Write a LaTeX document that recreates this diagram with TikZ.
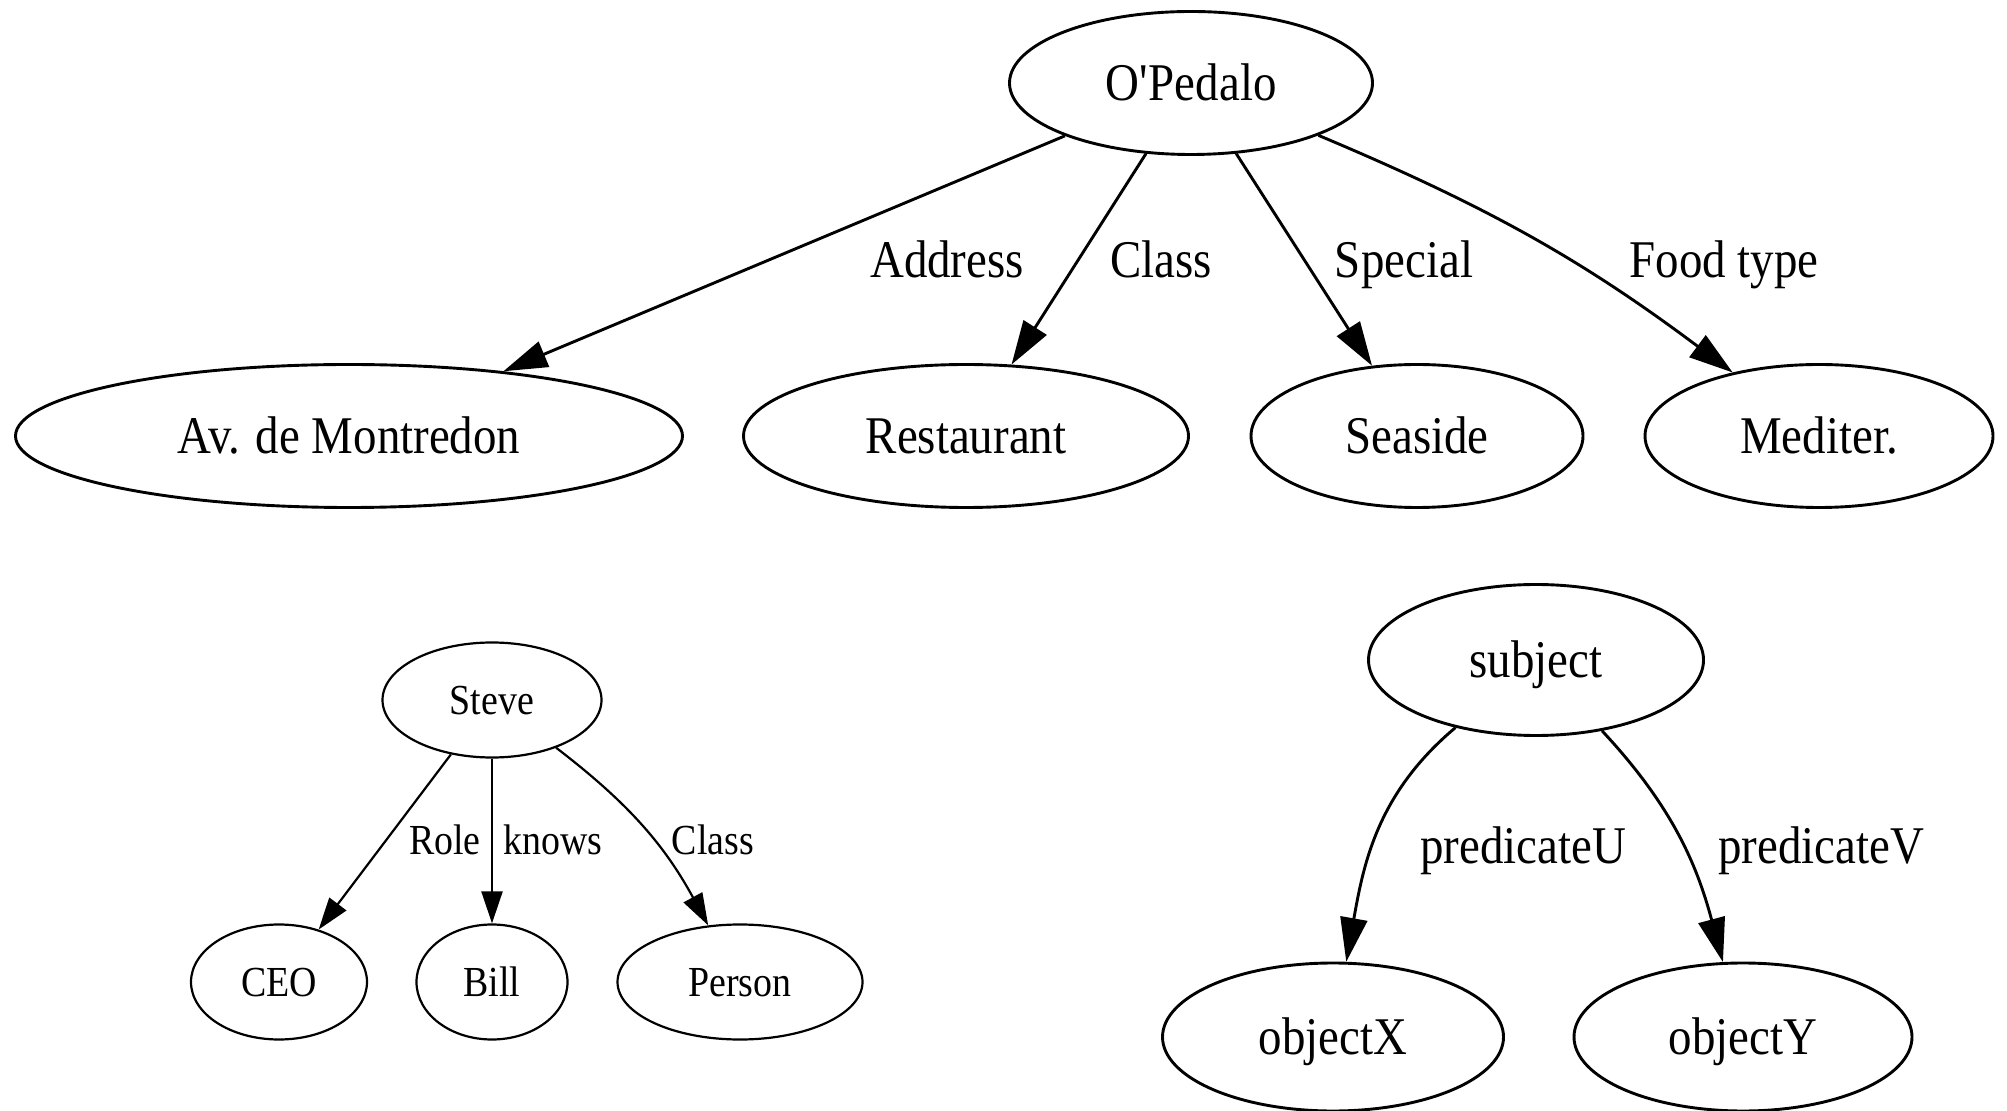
\documentclass[tikz,border=0pt]{standalone}
\usepackage{fontspec}
\setmainfont{Liberation Serif}[FakeStretch=0.885]
\usetikzlibrary{shapes,arrows.meta}

\begin{document}
\begin{tikzpicture}[x=0.5pt,y=-0.5pt]
    \tikzstyle{bigfont}=[font=\fontsize{26.5}{30}\selectfont,text height=17.5pt,text depth=0pt,inner sep=0pt]
    \tikzstyle{smallfont}=[font=\fontsize{21.4}{24}\selectfont,text height=14pt,text depth=0pt,inner sep=0pt]
    \tikzstyle{bignode}=[bigfont,ellipse,draw,line width=1.45pt,minimum height=71.5pt]
    \tikzstyle{smallnode}=[smallfont,ellipse,draw,line width=1.1pt,minimum height=57.5pt]
    \tikzstyle{bigedge}=[line width=1.45pt,-{Triangle[length=22pt,width=13.5pt]}]
    \tikzstyle{smalledge}=[line width=1.1pt,-{Triangle[length=16pt,width=10.5pt]}]
    \useasboundingbox (0,0) rectangle (2007,1111);
    \node[bignode,minimum width=181.5pt] (pedalo) at (1191,83) {O\textquotesingle Pedalo};
    \node[bignode,minimum width=333.5pt] (montredon) at (349,436) {Av. de Montredon};
    \node[bignode,minimum width=222.5pt] (restaurant) at (966,436) {Restaurant};
    \node[bignode,minimum width=166pt] (seaside) at (1417,436) {Seaside};
    \node[bignode,minimum width=174pt] (mediter) at (1819,436) {Mediter.};
    \node[bigfont] (address) at (947,260) {Address};
    \node[bigfont] (classA) at (1161,260) {Class};
    \node[bigfont] (special) at (1404,260) {Special};
    \node[bigfont] (foodtype) at (1724,260) {Food type};
    \draw[bigedge] (pedalo) -- (montredon);
    \draw[bigedge] (pedalo) -- (restaurant);
    \draw[bigedge] (pedalo) -- (seaside);
    \draw[bigedge] (pedalo) to[bend left=7] (mediter);

    \node[smallnode,minimum width=109.5pt] (steve) at (492,700) {Steve};
    \node[smallnode,minimum width=88pt] (ceo) at (279,982) {CEO};
    \node[smallnode,minimum width=75.5pt] (bill) at (492,982) {Bill};
    \node[smallnode,minimum width=122.5pt] (person) at (740,982) {Person};
    \node[smallfont] (role) at (445,840) {Role};
    \node[smallfont] (knows) at (553,840) {knows};
    \node[smallfont] (classB) at (713,840) {Class};
    \draw[smalledge] (steve) -- (ceo);
    \draw[smalledge] (steve) -- (bill);
    \draw[smalledge] (steve) to[bend left=12] (person);

    \node[bignode,minimum width=167.5pt,minimum height=75.5pt] (subject) at (1536,660) {subject};
    \node[bignode,minimum width=170.5pt,minimum height=74pt] (objectX) at (1333,1037) {objectX};
    \node[bignode,minimum width=169pt,minimum height=74pt] (objectY) at (1743,1037) {objectY};
    \node[bigfont] (predU) at (1523,846) {predicateU};
    \node[bigfont] (predV) at (1821,846) {predicateV};
    \draw[bigedge] (subject) to[out=220,in=80] (objectX);
    \draw[bigedge] (subject) to[out=-47,in=105] (objectY);
\end{tikzpicture}
\end{document}
